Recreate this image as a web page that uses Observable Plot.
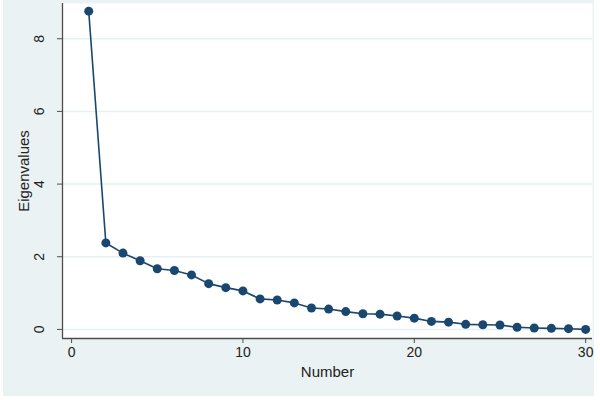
<!DOCTYPE html>
<html>
<head>
<meta charset="utf-8">
<script src="https://cdn.jsdelivr.net/npm/d3@7"></script>
<script src="https://cdn.jsdelivr.net/npm/@observablehq/plot@0.6"></script>
<style>
  html, body { margin: 0; padding: 0; background: #ffffff; }
  #chart svg {
    display: block;
    background: linear-gradient(#eaf2f3, #eaf2f3) no-repeat;
    background-size: 591px 396px;
    background-position: 3px 0px;
  }
</style>
</head>
<body>
<div id="chart"></div>
<script>
const numbers = [1,2,3,4,5,6,7,8,9,10,11,12,13,14,15,16,17,18,19,20,21,22,23,24,25,26,27,28,29,30];
const eigenvalues = [8.76,2.38,2.10,1.89,1.67,1.62,1.50,1.26,1.15,1.06,0.84,0.81,0.73,0.59,0.56,0.49,0.43,0.42,0.37,0.31,0.22,0.20,0.14,0.13,0.12,0.06,0.04,0.03,0.02,0.00];
const xTicks = [0,10,20,30];
const yTicks = [0,2,4,6,8];
const xDomain = [-0.53, 30.4];
const yDomain = [-0.25, 8.97];

const data = numbers.map((n, i) => ({n, v: eigenvalues[i]}));
const navy = "#1a476f";
const axisColor = "#4d4d4d";
const font = "'Liberation Sans', Arial, Helvetica, sans-serif";

const chart = Plot.plot({
  width: 600,
  height: 400,
  marginLeft: 62,
  marginRight: 8,
  marginTop: 3,
  marginBottom: 62,
  style: {fontFamily: font, fontSize: "14px", color: "#222"},
  x: {domain: xDomain, ticks: xTicks, label: null},
  y: {domain: yDomain, ticks: yTicks, label: null},
  marks: [
    Plot.frame({fill: "#ffffff", stroke: null}),
    Plot.gridY(yTicks, {stroke: "#e6eff1", strokeOpacity: 1, strokeWidth: 1.5}),
    Plot.ruleX([xDomain[0]], {stroke: axisColor, strokeWidth: 1.3}),
    Plot.ruleY([yDomain[0]], {stroke: axisColor, strokeWidth: 1.3}),
    Plot.axisX(xTicks, {tickSize: 5, tickPadding: 4, stroke: axisColor, fontSize: 14, fill: "#222", label: null}),
    Plot.axisY(yTicks, {tickSize: 5, stroke: axisColor, text: null, label: null}),
    Plot.text(yTicks, {y: d => d, frameAnchor: "left", dx: -23, rotate: -90, text: d => String(d), fontSize: 14, fill: "#222", textAnchor: "middle", lineAnchor: "middle"}),
    Plot.text(["Eigenvalues"], {frameAnchor: "left", dx: -38, rotate: -90, text: d => d, fontSize: 15, fill: "#222", textAnchor: "middle", lineAnchor: "middle"}),
    Plot.text(["Number"], {frameAnchor: "bottom", dy: 34, text: d => d, fontSize: 15, fill: "#222", textAnchor: "middle", lineAnchor: "middle"}),
    Plot.line(data, {x: "n", y: "v", stroke: navy, strokeWidth: 1.6}),
    Plot.dot(data, {x: "n", y: "v", r: 4.5, fill: navy, stroke: null})
  ]
});
document.getElementById("chart").appendChild(chart);
</script>
</body>
</html>
